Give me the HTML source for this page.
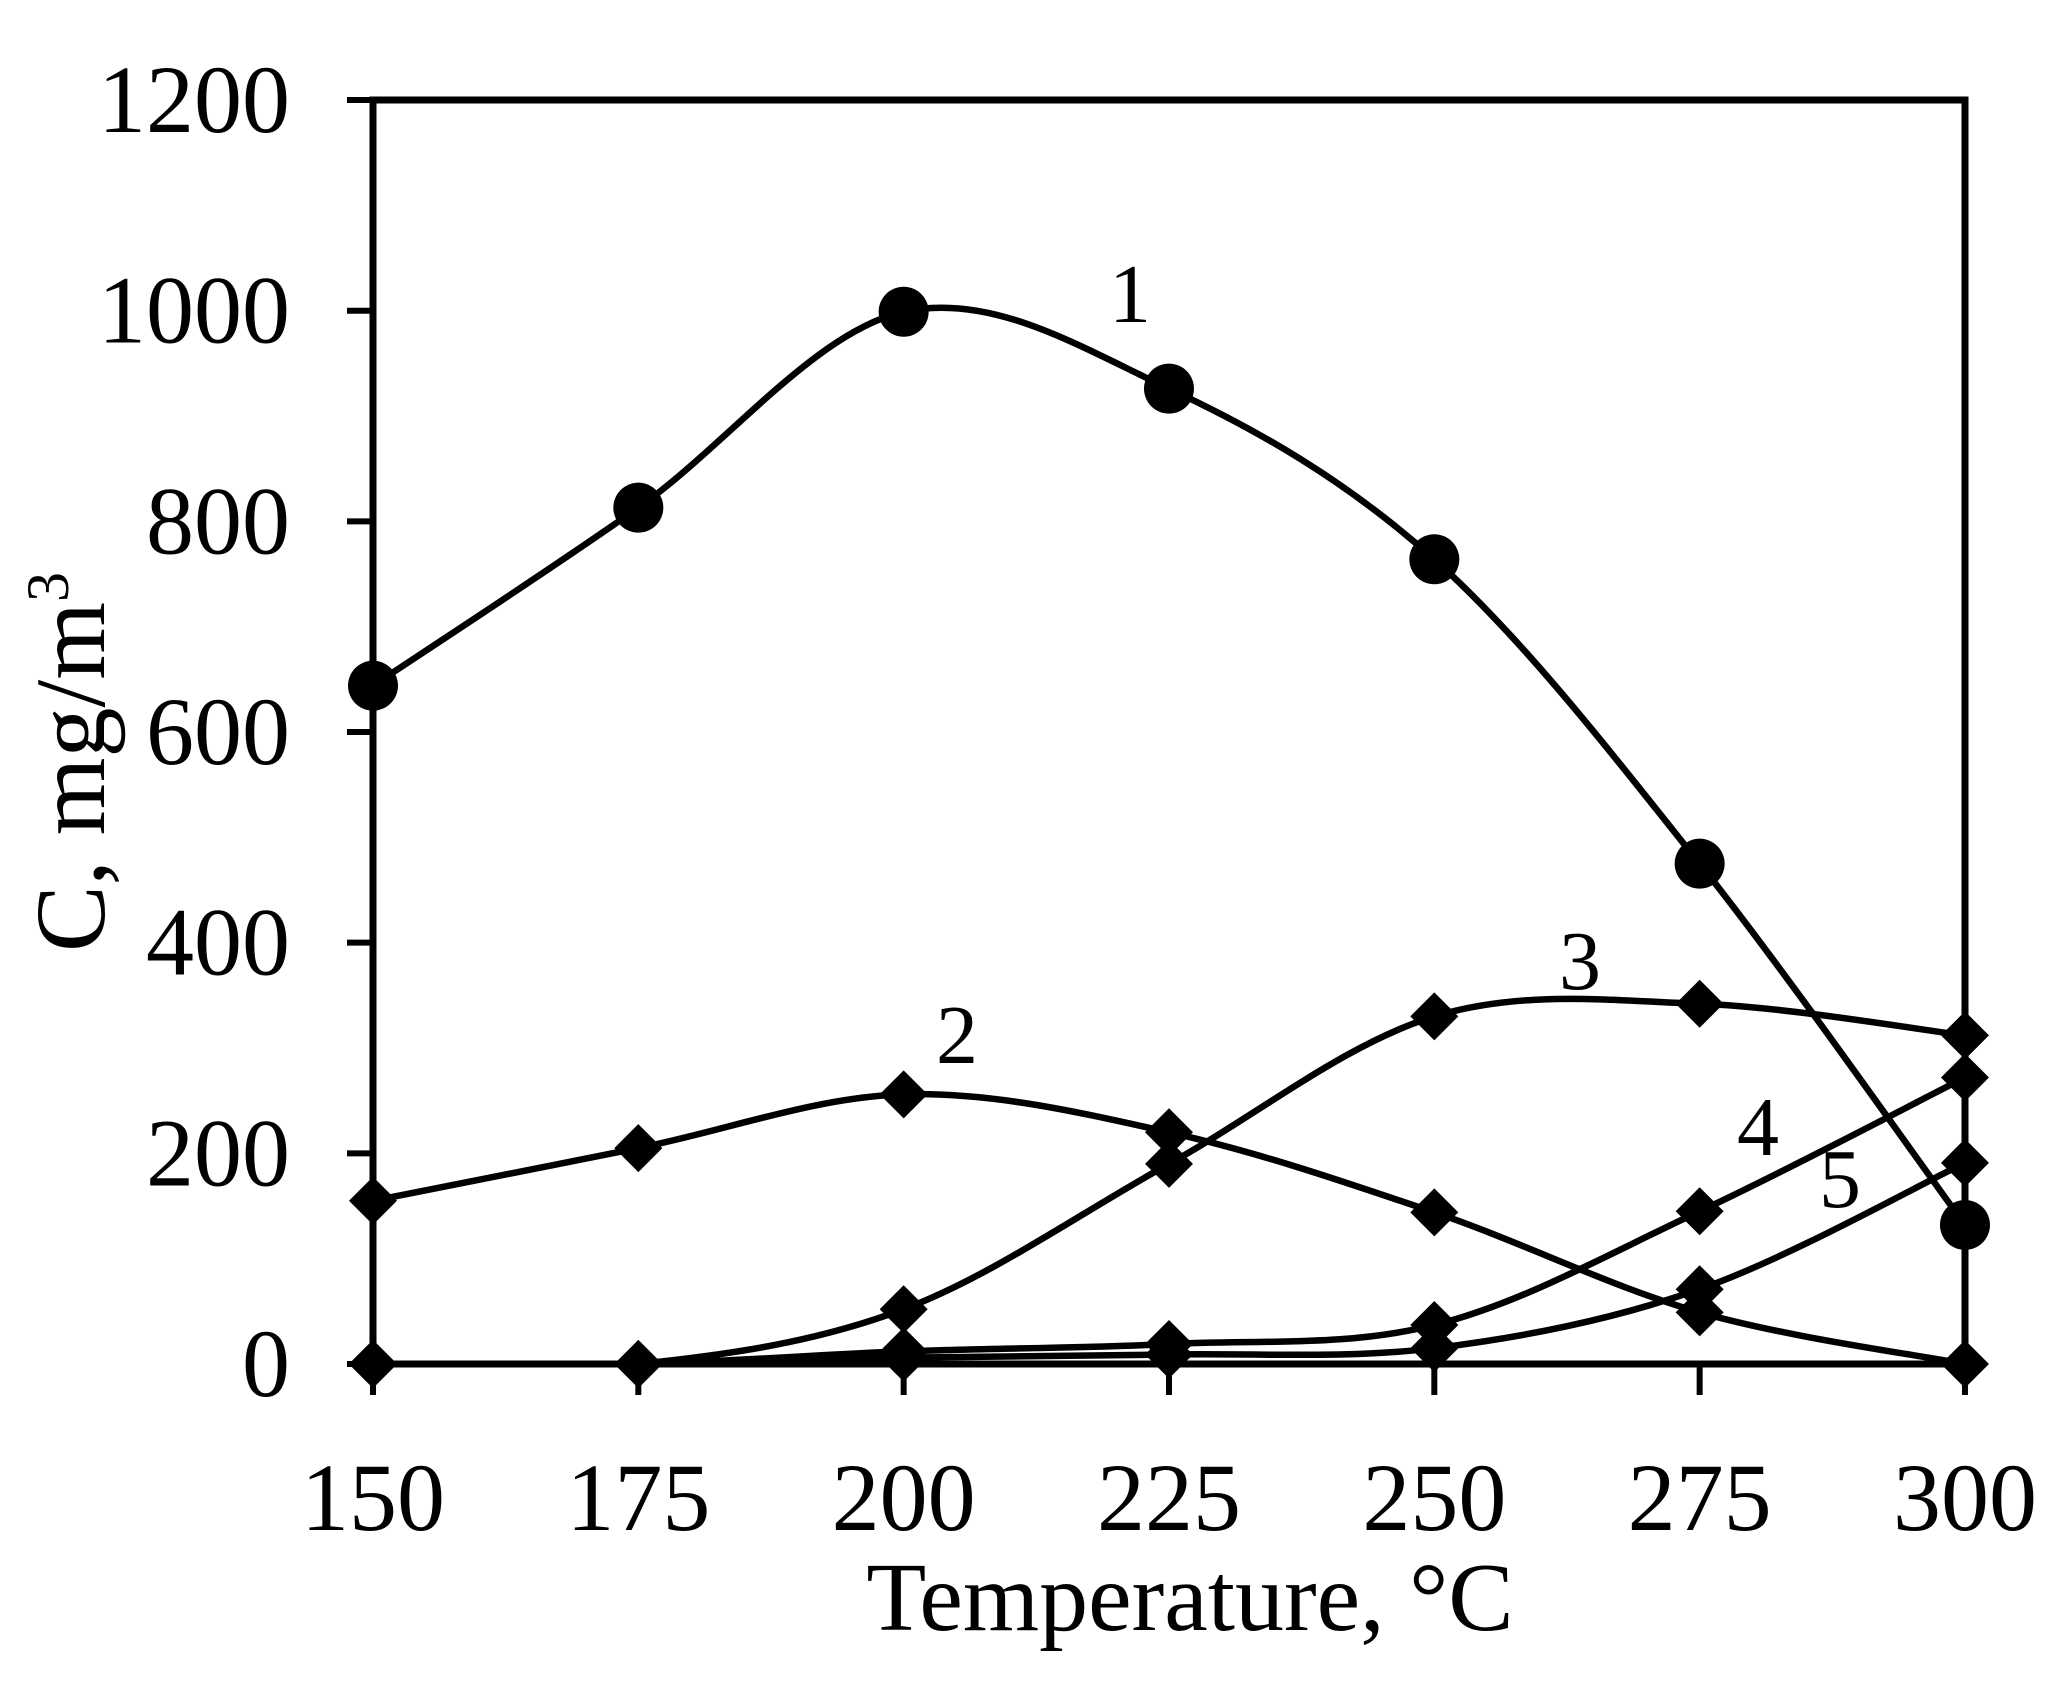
<!DOCTYPE html>
<html><head><meta charset="utf-8"><style>html,body{margin:0;padding:0;background:#fff}svg{display:block}</style></head>
<body>
<svg id="s" width="2063" height="1682" viewBox="0 0 2063 1682" xmlns="http://www.w3.org/2000/svg" font-family="Liberation Serif, serif" fill="#000">
<g id="curves" fill="none" stroke="#000" stroke-width="6.5"></g>
<g stroke="#000" stroke-width="7" fill="none">
<rect x="373" y="100" width="1592" height="1264"/>
</g>
<g id="ticks" stroke="#000" stroke-width="6"></g>
<g id="marks"></g>
<g font-size="96" text-anchor="end" id="ylab"></g>
<g font-size="96" text-anchor="middle" id="xlab"></g>
<text x="1190" y="1630" font-size="98" text-anchor="middle">Temperature, °C</text>
<text transform="translate(104,762) rotate(-90)" font-size="100" text-anchor="middle">C, mg/m<tspan font-size="60" dy="-36">3</tspan></text>
<g font-size="84" text-anchor="middle">
<text x="1130" y="322">1</text>
<text x="957" y="1063">2</text>
<text x="1580" y="989">3</text>
<text x="1758" y="1155">4</text>
<text x="1840" y="1207">5</text>
</g>
</svg>
<script>
var NS="http://www.w3.org/2000/svg";
function X(i){return 373+i*265.33;}
function Y(v){return 1364-v*1.0533;}
var data=[
 {v:[644,813,999,926,764,475,132],m:'c'},
 {v:[155,205,256,220,144,49,0],m:'d'},
 {v:[0,0,52,190,330,342,312],m:'d'},
 {v:[0,0,12,19,37,145,272],m:'d'},
 {v:[0,0,6,9,15,71,191],m:'d'}
];
var cg=document.getElementById('curves'),mg=document.getElementById('marks');
function el(t,a,p){var e=document.createElementNS(NS,t);for(var k in a)e.setAttribute(k,a[k]);p.appendChild(e);return e;}
var Y0=Y(0);
data.forEach(function(s){
 var p=s.v.map(function(v,i){return [X(i),Y(v)];});
 var d="M"+p[0][0]+","+p[0][1];
 for(var i=0;i<p.length-1;i++){
  var p0=p[i-1]||p[i],p1=p[i],p2=p[i+1],p3=p[i+2]||p[i+1];
  var t=1/6;
  var c1=[p1[0]+(p2[0]-p0[0])*t,Math.min(Y0,p1[1]+(p2[1]-p0[1])*t)];
  var c2=[p2[0]-(p3[0]-p1[0])*t,Math.min(Y0,p2[1]-(p3[1]-p1[1])*t)];
  d+=" C"+c1+" "+c2+" "+p2;
 }
 el('path',{d:d},cg);
 p.forEach(function(q){
  if(s.m=='c')el('circle',{cx:q[0],cy:q[1],r:25},mg);
  else {var h=24;el('polygon',{points:(q[0])+","+(q[1]-h)+" "+(q[0]+h)+","+q[1]+" "+q[0]+","+(q[1]+h)+" "+(q[0]-h)+","+q[1]},mg);}
 });
});
var tg=document.getElementById('ticks'),yl=document.getElementById('ylab'),xl=document.getElementById('xlab');
for(var k=0;k<=6;k++){
 var y=Y(k*200);
 el('line',{x1:347,y1:y,x2:373,y2:y},tg);
 var t=el('text',{x:290,y:y+32},yl);t.textContent=k*200;
 var x=X(k);
 el('line',{x1:x,y1:1364,x2:x,y2:1395},tg);
 var u=el('text',{x:x,y:1530},xl);u.textContent=150+25*k;
}
</script>
</body></html>
